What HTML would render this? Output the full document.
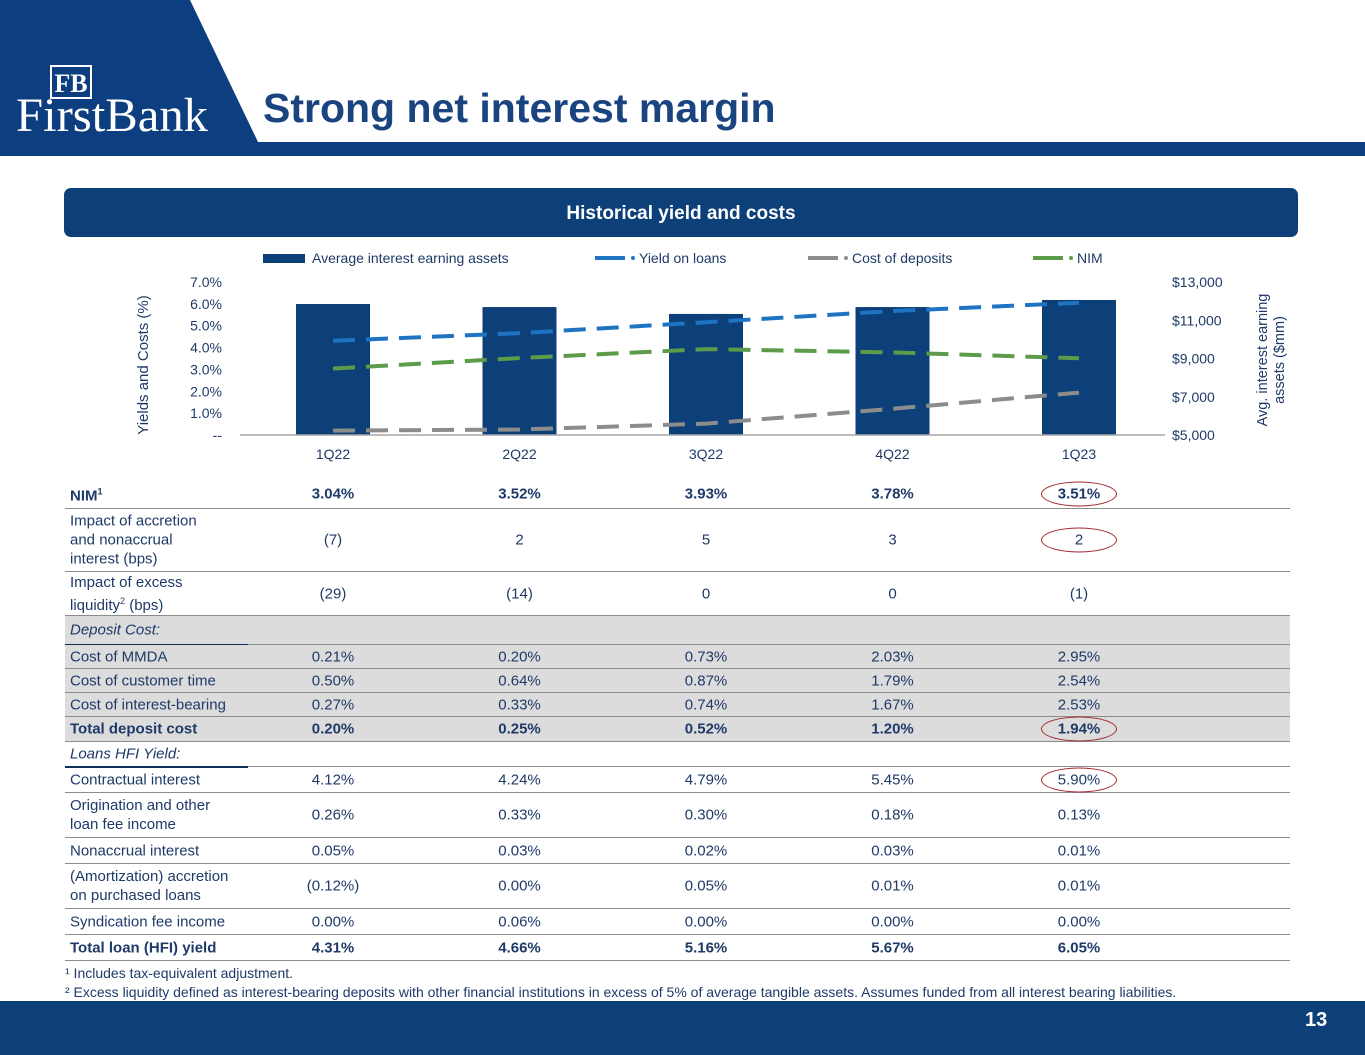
<!DOCTYPE html>
<html><head><meta charset="utf-8"><style>
*{margin:0;padding:0;box-sizing:border-box}
body{width:1365px;height:1055px;position:relative;overflow:hidden;background:#fff;font-family:"Liberation Sans",Arial,sans-serif;color:#1f3a68}
.abs{position:absolute}
.row{position:absolute;left:65px;width:1225px;border-bottom:1.5px solid #8c8c8c;font-size:15px;color:#1f3a68}
.row .lbl{position:absolute;left:5px;top:50%;transform:translateY(-50%);line-height:19px}
.row .v{position:absolute;top:50%;transform:translate(-50%,-50%);white-space:nowrap}
.gray{background:#dcdcdc}
.b{font-weight:bold}
.it{font-style:italic}
.ell{position:absolute;width:76px;height:25px;border:1.5px solid #a3282d;border-radius:50%;transform:translate(-50%,-50%)}
</style></head><body>
<svg class="abs" style="left:0;top:0" width="1365" height="160">
<polygon points="0,0 190,0 258,142 0,142" fill="#0d3f80"/>
<rect x="0" y="142" width="1365" height="14" fill="#0d3f80"/>
<rect x="51" y="66" width="40" height="32" fill="none" stroke="#fff" stroke-width="2"/>
<text x="71" y="92" fill="#fff" font-family="Liberation Serif,serif" font-size="26" font-weight="bold" text-anchor="middle">FB</text>
<text x="16" y="131" fill="#fff" font-family="Liberation Serif,serif" font-size="48" textLength="192" lengthAdjust="spacingAndGlyphs">FirstBank</text>
</svg>
<div class="abs" style="left:263px;top:85px;font-size:41px;font-weight:bold;color:#1a4480">Strong net interest margin</div>
<div class="abs" style="left:64px;top:188px;width:1234px;height:49px;background:#0d3f78;border-radius:7px;color:#fff;font-weight:bold;font-size:19px;text-align:center;line-height:51px">Historical yield and costs</div>
<svg id="chart" class="abs" style="left:0;top:240px" width="1365" height="230"></svg>
<div id="table"></div>
<div class="abs" style="left:65px;top:965px;font-size:14px">¹ Includes tax-equivalent adjustment.</div>
<div class="abs" style="left:65px;top:984px;font-size:14px">² Excess liquidity defined as interest-bearing deposits with other financial institutions in excess of 5% of average tangible assets. Assumes funded from all interest bearing liabilities.</div>
<div class="abs" style="left:0;top:1001px;width:1365px;height:54px;background:#0d3f78"></div>
<div class="abs" style="left:1305px;top:1009px;font-size:20px;font-weight:bold;color:#fff">13</div>
<script>
const categories=["1Q22","2Q22","3Q22","4Q22","1Q23"];
const assets=[11850,11690,11330,11690,12060];
const yieldLoans=[4.31,4.66,5.16,5.67,6.05];
const nim=[3.04,3.52,3.93,3.78,3.51];
const costDeposits=[0.20,0.25,0.52,1.20,1.94];
const leftTicks=["--","1.0%","2.0%","3.0%","4.0%","5.0%","6.0%","7.0%"];
const rightTicks=["$5,000","$7,000","$9,000","$11,000","$13,000"];
const NS="http://www.w3.org/2000/svg";
const svg=document.getElementById('chart');
function mk(t,a,p){const e=document.createElementNS(NS,t);for(const k in a)e.setAttribute(k,a[k]);(p||svg).appendChild(e);return e;}
const y0=195,y1=42;
const yL=v=>y0-(v/7)*(y0-y1);
const yR=v=>y0-((v-5000)/8000)*(y0-y1);
const xC=i=>333+i*186.5;
const fc="#1f3a68";
assets.forEach((v,i)=>{const r=mk('rect',{x:xC(i)-37,y:yR(v),width:74,height:y0-yR(v),fill:"#0d3f78"});

});
mk('line',{x1:240,x2:1165,y1:y0,y2:y0,stroke:"#a6a6a6","stroke-width":1.5});
leftTicks.forEach((t,i)=>{const e=mk('text',{x:222,y:yL(i)+5,"text-anchor":"end","font-size":14,fill:fc});e.textContent=t;});
rightTicks.forEach((t,i)=>{const e=mk('text',{x:1172,y:yR(5000+i*2000)+5,"font-size":14,fill:fc});e.textContent=t;});
categories.forEach((c,i)=>{const e=mk('text',{x:xC(i),y:y0+24,"text-anchor":"middle","font-size":14,fill:fc});e.textContent=c;});
let t=mk('text',{transform:"translate(148,125) rotate(-90)","text-anchor":"middle","font-size":15,fill:fc});t.textContent="Yields and Costs (%)";


t=mk('text',{transform:"translate(1267,120) rotate(-90)","text-anchor":"middle","font-size":14.5,fill:fc});t.textContent="Avg. interest earning";
t=mk('text',{transform:"translate(1284,120) rotate(-90)","text-anchor":"middle","font-size":14.5,fill:fc});t.textContent="assets ($mm)";


function line(vals,col,name){const p=mk('polyline',{points:vals.map((v,i)=>xC(i)+","+yL(v)).join(" "),fill:"none",stroke:col,"stroke-width":4,"stroke-dasharray":"22,11"});

}
line(costDeposits,"#8c8c8c","cost-of-deposits-line");
line(nim,"#5b9b4a","nim-line");
line(yieldLoans,"#1f73c3","yield-on-loans-line");
mk('rect',{x:263,y:14,width:42,height:9,fill:"#0d3f78"});
t=mk('text',{x:312,y:23,"font-size":14,fill:fc});t.textContent="Average interest earning assets";
[[595,"#1f73c3","Yield on loans"],[808,"#8c8c8c","Cost of deposits"],[1033,"#5b9b4a","NIM"]].forEach(a=>{
mk('line',{x1:a[0],x2:a[0]+30,y1:18,y2:18,stroke:a[1],"stroke-width":4});
mk('circle',{cx:a[0]+38,cy:18,r:2,fill:a[1]});
const e=mk('text',{x:a[0]+44,y:23,"font-size":14,fill:fc});e.textContent=a[2];

});
const rows=[
[480,509,"NIM<sup style='font-size:9px'>1</sup>",["3.04%","3.52%","3.93%","3.78%","3.51%"],"b",1],
[509,572,"Impact of accretion<br>and nonaccrual<br>interest (bps)",["(7)","2","5","3","2"],"",1],
[572,616,"Impact of excess<br>liquidity<sup style='font-size:9px'>2</sup> (bps)",["(29)","(14)","0","0","(1)"],"",0],
[616,645,"Deposit Cost:",[],"it gray",0],
[645,669,"Cost of MMDA",["0.21%","0.20%","0.73%","2.03%","2.95%"],"gray",0],
[669,693,"Cost of customer time",["0.50%","0.64%","0.87%","1.79%","2.54%"],"gray",0],
[693,717,"Cost of interest-bearing",["0.27%","0.33%","0.74%","1.67%","2.53%"],"gray",0],
[717,742,"Total deposit cost",["0.20%","0.25%","0.52%","1.20%","1.94%"],"b gray",1],
[742,767,"Loans HFI Yield:",[],"it",0],
[767,793,"Contractual interest",["4.12%","4.24%","4.79%","5.45%","5.90%"],"",1],
[793,838,"Origination and other<br>loan fee income",["0.26%","0.33%","0.30%","0.18%","0.13%"],"",0],
[838,864,"Nonaccrual interest",["0.05%","0.03%","0.02%","0.03%","0.01%"],"",0],
[864,909,"(Amortization) accretion<br>on purchased loans",["(0.12%)","0.00%","0.05%","0.01%","0.01%"],"",0],
[909,935,"Syndication fee income",["0.00%","0.06%","0.00%","0.00%","0.00%"],"",0],
[935,961,"Total loan (HFI) yield",["4.31%","4.66%","5.16%","5.67%","6.05%"],"b",0]];
const tb=document.getElementById('table');
rows.forEach((r,ri)=>{
const d=document.createElement('div');d.className='row '+r[4];
d.style.top=r[0]+'px';d.style.height=(r[1]-r[0])+'px';


let h='<div class="lbl">'+r[2]+'</div>';
r[3].forEach((v,i)=>{h+='<div class="v" style="left:'+(xC(i)-65)+'px">'+v+'</div>';});
if(r[5])h+='<div class="ell" style="left:'+(xC(4)-65)+'px;top:50%"></div>';
d.innerHTML=h;
if(r[4].indexOf('it')>=0){const u=document.createElement('div');u.style.cssText='position:absolute;left:0;bottom:-1.5px;width:183px;height:2px;background:#0d2f58';d.appendChild(u);}
tb.appendChild(d);});
</script>
</body></html>
